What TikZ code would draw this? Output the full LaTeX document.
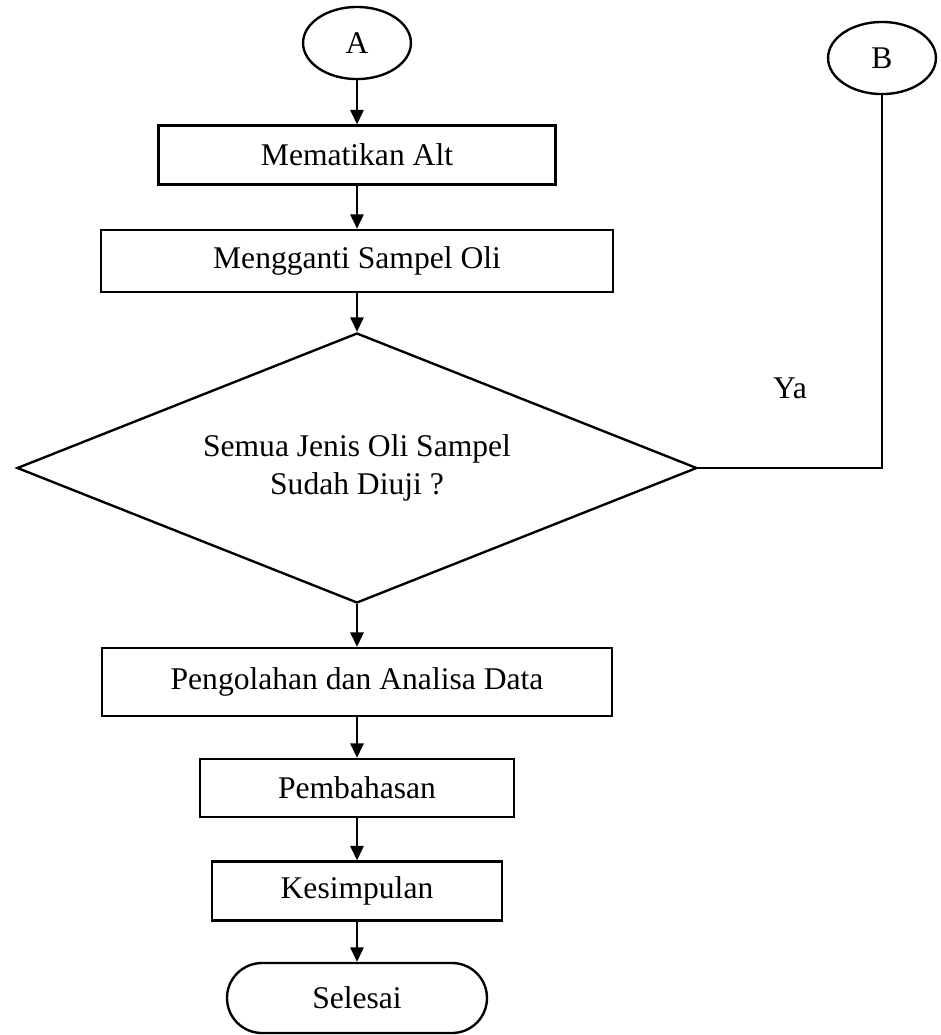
\documentclass[tikz,border=0pt]{standalone}
\usepackage{fontspec}
\setmainfont{Liberation Serif}
\usetikzlibrary{shapes.geometric,arrows.meta}

\begin{document}
\begin{tikzpicture}[x=0.38pt, y=-0.38pt, line width=0.9pt,
      every node/.style={font=\fontsize{12}{14.5}\selectfont},
      proses/.style={draw, rectangle, inner sep=0pt},
      konektor/.style={draw, ellipse, inner sep=0pt, minimum width=41pt, minimum height=27.4pt},
      keputusan/.style={draw, diamond, aspect=2.5, inner sep=0pt, align=center,
        minimum width=258.4pt, minimum height=102.6pt},
      terminal/.style={draw, rectangle, rounded corners=13.3pt, inner sep=0pt,
        minimum width=98.8pt, minimum height=26.6pt},
      panah/.style={-{Triangle[length=5.5pt, width=5pt]}}]
      \useasboundingbox (0,0) rectangle (941,1035);
      \node[konektor] (A) at (357,43) {A};
      \node[konektor] (B) at (882,58) {B};
      \node[proses, minimum width=151pt, minimum height=22.4pt] (matikan) at (357,155) {Mematikan Alt};
      \node[proses, minimum width=194.6pt, minimum height=23.6pt] (ganti) at (357,261) {Mengganti Sampel Oli};
      \node[keputusan] (cek) at (357,468) {Semua Jenis Oli Sampel\\Sudah Diuji ?};
      \node[proses, minimum width=193.8pt, minimum height=25.8pt] (olah) at (357,682) {Pengolahan dan Analisa Data};
      \node[proses, minimum width=119.3pt, minimum height=22pt] (bahas) at (357,788) {Pembahasan};
      \node[proses, minimum width=110.2pt, minimum height=22.4pt] (simpul) at (357,891) {Kesimpulan};
      \node[terminal] (selesai) at (357,998) {Selesai};
      \node (ya) at (790,388) {Ya};
      \draw[panah] (A) -- (matikan);
      \draw[panah] (matikan) -- (ganti);
      \draw[panah] (ganti) -- (cek);
      \draw[panah] (cek) -- (olah);
      \draw[panah] (olah) -- (bahas);
      \draw[panah] (bahas) -- (simpul);
      \draw[panah] (simpul) -- (selesai);
      \draw (cek.east) -| (B.south);
    \end{tikzpicture}
\end{document}
